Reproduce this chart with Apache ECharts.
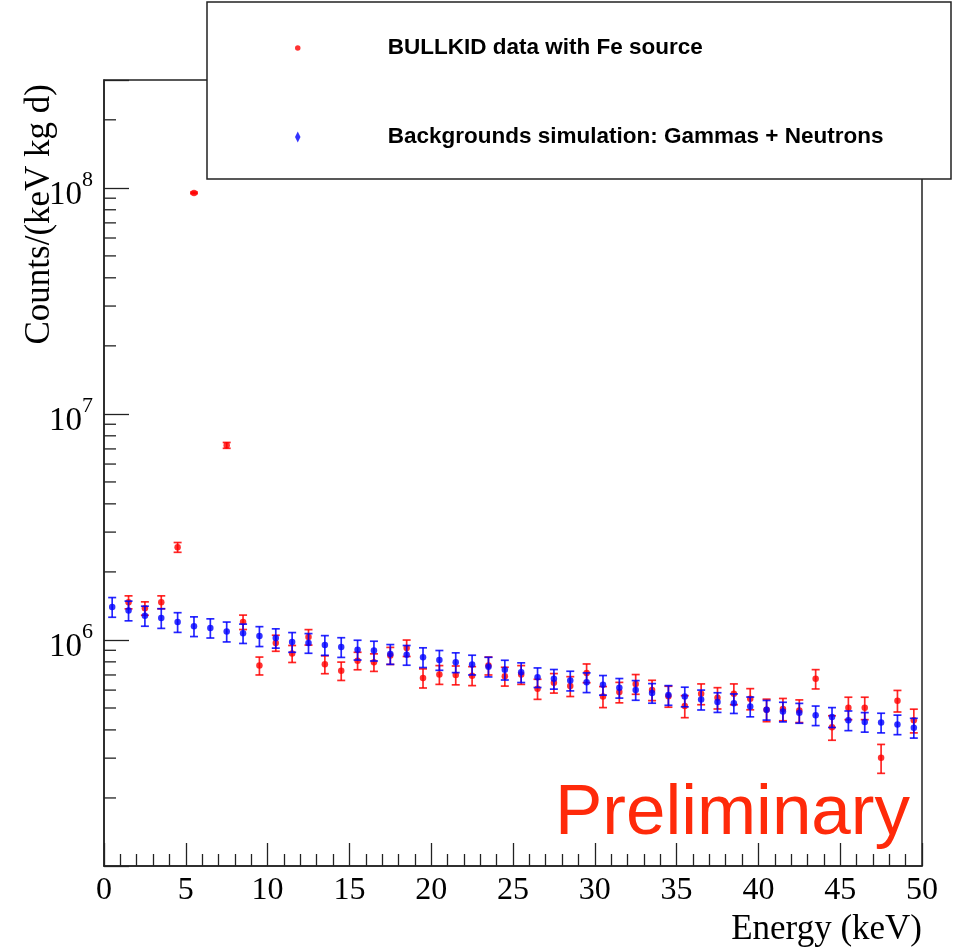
<!DOCTYPE html>
<html><head><meta charset="utf-8">
<script src="https://cdn.jsdelivr.net/npm/echarts@6/dist/echarts.min.js"></script>
<style>html,body{margin:0;padding:0;background:#fff}#c{width:957px;height:948px}</style>
</head><body><div id="c"></div><script>
// ---- data ----
const energy = [0.5,1.5,2.5,3.5,4.5,5.5,6.5,7.5,8.5,9.5,
  10.5,11.5,12.5,13.5,14.5,15.5,16.5,17.5,18.5,19.5,
  20.5,21.5,22.5,23.5,24.5,25.5,26.5,27.5,28.5,29.5,
  30.5,31.5,32.5,33.5,34.5,35.5,36.5,37.5,38.5,39.5,
  40.5,41.5,42.5,43.5,44.5,45.5,46.5,47.5,48.5,49.5];
const dataCounts = [null,1.47e6,1.38e6,1.47e6,2.57e6,9.5e7,null,7.26e6,1.20e6,7.7e5,
  9.7e5,8.7e5,1.03e6,7.8e5,7.3e5,8.1e5,7.97e5,8.53e5,9.22e5,6.79e5,
  7.03e5,7.0e5,6.95e5,7.7e5,6.91e5,7.03e5,6.08e5,6.46e5,6.25e5,7.15e5,
  5.62e5,5.88e5,6.39e5,6.01e5,5.64e5,5.1e5,5.78e5,5.55e5,5.78e5,5.5e5,
  4.91e5,4.95e5,4.87e5,6.73e5,4.11e5,5.01e5,5.01e5,3.01e5,5.39e5,4.41e5];
const dataErrors = [null,97000,94000,97000,128000,780000,null,216000,88000,70000,
  79000,75000,81000,71000,68000,72000,71000,74000,77000,66000,
  67000,67000,67000,70000,66000,67000,62000,64000,63000,68000,
  60000,61000,64000,62000,60000,57000,61000,60000,61000,59000,
  56000,56000,56000,66000,51000,57000,57000,44000,59000,53000];
const simCounts = [1.40e6,1.35e6,1.28e6,1.25e6,1.20e6,1.15e6,1.13e6,1.09e6,1.07e6,1.04e6,
  1.02e6,9.8e5,9.7e5,9.5e5,9.3e5,9.06e5,8.97e5,8.67e5,8.59e5,8.39e5,
  8.16e5,7.97e5,7.78e5,7.62e5,7.39e5,7.2e5,6.84e5,6.73e5,6.61e5,6.5e5,
  6.33e5,6.14e5,6.01e5,5.83e5,5.71e5,5.62e5,5.45e5,5.31e5,5.25e5,5.08e5,
  4.91e5,4.82e5,4.76e5,4.64e5,4.56e5,4.41e5,4.34e5,4.31e5,4.23e5,4.09e5];
const simErrors = [140000,135000,130000,125000,120000,115000,110000,110000,105000,105000,
  100000,98000,97000,95000,93000,91000,90000,87000,86000,84000,
  82000,80000,78000,76000,74000,72000,68000,67000,66000,65000,
  63000,61000,60000,58000,57000,56000,55000,53000,52000,51000,
  49000,48000,48000,46000,46000,44000,43000,43000,42000,41000];
const yMajorTicks = [1e6,1e7,1e8];
const yMinorTicks = [2e5,3e5,4e5,5e5,6e5,7e5,8e5,9e5,
  2e6,3e6,4e6,5e6,6e6,7e6,8e6,9e6,
  2e7,3e7,4e7,5e7,6e7,7e7,8e7,9e7,2e8];
const legendNames = ['BULLKID data with Fe source','Backgrounds simulation: Gammas + Neutrons'];
const xTitle = 'Energy (keV)';
const yTitle = 'Counts/(keV kg d)';
const watermark = 'Preliminary';

// ---- build ----
const RED = '#ff0000', BLUE = '#0000ff';
function pts(vals){ const o=[]; energy.forEach((e,i)=>{ if(vals[i]!=null) o.push([e, vals[i]]); }); return o; }
function errs(vals, es){ const o=[]; energy.forEach((e,i)=>{ if(vals[i]!=null) o.push([e, vals[i], es[i]]); }); return o; }
function errRender(color){
  return function(params, api){
    const x=api.value(0), y=api.value(1), e=api.value(2);
    const hi=api.coord([x,y+e]), lo=api.coord([x,y-e]);
    const w=4, st={stroke:color,lineWidth:1.7,opacity:0.85};
    return {type:'group',children:[
      {type:'line',shape:{x1:hi[0],y1:hi[1],x2:lo[0],y2:lo[1]},style:st},
      {type:'line',shape:{x1:hi[0]-w,y1:hi[1],x2:hi[0]+w,y2:hi[1]},style:st},
      {type:'line',shape:{x1:lo[0]-w,y1:lo[1],x2:lo[0]+w,y2:lo[1]},style:st}
    ]};
  };
}
function isMajor(v){ return yMajorTicks.some(t=>Math.abs(v/t-1)<1e-6); }
const serif = 'Liberation Serif';
const chart = echarts.init(document.getElementById('c'), null, {renderer:'canvas'});
chart.setOption({
  animation:false,
  backgroundColor:'#fff',
  grid:{left:104,right:35,top:80,bottom:82,show:true,borderColor:'#222',borderWidth:1.5,backgroundColor:'transparent'},
  xAxis:{type:'value',min:0,max:50,interval:5,
    axisLine:{show:true,lineStyle:{color:'#222',width:1.5}},
    axisTick:{show:true,inside:true,length:23,lineStyle:{color:'#222',width:1.3}},
    minorTick:{show:true,splitNumber:5,length:12,lineStyle:{color:'#222',width:1.3}},
    splitLine:{show:false},
    axisLabel:{fontFamily:serif,fontSize:32,color:'#000',margin:9}
  },
  yAxis:{type:'log',logBase:10,min:1e5,max:3e8,
    axisLine:{show:true,lineStyle:{color:'#222',width:1.5}},
    axisTick:{show:true,inside:true,length:25,lineStyle:{color:'#222',width:1.3}},
    splitLine:{show:false},minorTick:{show:false},
    axisLabel:{margin:11,color:'#000',
      formatter:function(v){ if(!isMajor(v)) return ''; const e=Math.round(Math.log10(v)); return '{b|10}{s|'+e+'}'; },
      rich:{b:{fontFamily:serif,fontSize:33,color:'#000',padding:[14,0,0,0]},s:{fontFamily:serif,fontSize:22,color:'#000',padding:[0,0,16,0]}}
    }
  },
  legend:{data:[
      {name:legendNames[0],icon:'path://M5,0L5,0M5,20L5,20M0,10a5,5 0 1,0 10,0a5,5 0 1,0 -10,0z'},
      {name:legendNames[1],icon:'path://M5,0L10,10L5,20L0,10Z'}],
    orient:'vertical',left:295,top:36,itemWidth:170,itemHeight:11,itemGap:65,padding:0,
    selectedMode:false,z:20,
    textStyle:{fontFamily:'Liberation Sans',fontWeight:'bold',fontSize:22.5,color:'#000',lineHeight:24}
  },
  graphic:[
    {type:'rect',z:10,zlevel:0,shape:{x:207,y:2,width:744,height:177},style:{fill:'#fff',stroke:'#222',lineWidth:1.5}},
    {type:'text',x:922,y:930,z:5,style:{text:xTitle,font:'35px "Liberation Serif"',fill:'#000',textAlign:'right',textVerticalAlign:'middle'}},
    {type:'text',x:40,y:84,rotation:Math.PI/2,z:5,style:{text:yTitle,font:'35px "Liberation Serif"',fill:'#000',textAlign:'right',textVerticalAlign:'middle'}},
    {type:'text',x:910,y:814,z:5,style:{text:watermark,font:'71px "Liberation Sans"',fill:'#ff2a0a',textAlign:'right',textVerticalAlign:'middle'}}
  ],
  series:[
    {type:'custom',name:'minorTicks',silent:true,clip:false,data:yMinorTicks.map(v=>[0,v]),
      renderItem:function(p,api){ const c=api.coord([0,api.value(1)]); return {type:'line',shape:{x1:c[0],y1:c[1],x2:c[0]+12,y2:c[1]},style:{stroke:'#222',lineWidth:1.3}}; }},
    {type:'custom',name:'dataErr',silent:true,data:errs(dataCounts,dataErrors),renderItem:errRender(RED),z:2},
    {type:'scatter',name:legendNames[0],data:pts(dataCounts),symbol:'circle',symbolSize:6.5,itemStyle:{color:RED},z:3},
    {type:'custom',name:'simErr',silent:true,data:errs(simCounts,simErrors),renderItem:errRender(BLUE),z:4},
    {type:'scatter',name:legendNames[1],data:pts(simCounts),symbol:'circle',symbolSize:6.5,itemStyle:{color:BLUE},z:5}
  ]
});
</script></body></html>
